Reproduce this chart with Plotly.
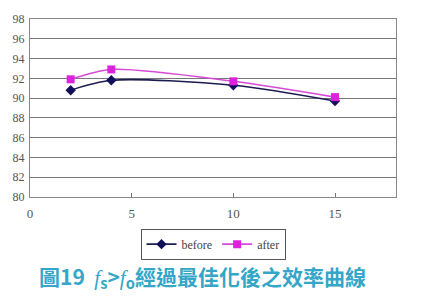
import plotly.graph_objects as go

x_vals = [2, 4, 10, 15]
before = [90.8, 91.8, 91.3, 89.7]
after = [91.9, 92.9, 91.7, 90.1]
series_names = ["before", "after"]
title_text = ("圖19  <span style='font-family:Liberation Serif;font-weight:normal'><i>f</i></span><sub>s</sub>>"
              "<span style='font-family:Liberation Serif;font-weight:normal'><i>f</i></span><sub>o</sub>經過最佳化後之效率曲線")

fig = go.Figure()
fig.add_trace(go.Scatter(
    x=x_vals, y=before, name=series_names[0], mode="lines+markers",
    line=dict(color="#1c1c50", width=1.6, shape="spline", smoothing=0.8),
    marker=dict(symbol="diamond", size=8, color="#10105a"),
))
fig.add_trace(go.Scatter(
    x=x_vals, y=after, name=series_names[1], mode="lines+markers",
    line=dict(color="#d64ad6", width=1.6, shape="spline", smoothing=0.8),
    marker=dict(symbol="square", size=8, color="#dd22dd"),
))

serif = "Liberation Serif"
fig.update_layout(
    width=424, height=301,
    margin=dict(l=30, r=28, t=16, b=104),
    paper_bgcolor="white", plot_bgcolor="white",
    showlegend=True,
    legend=dict(
        orientation="h", x=0.5, xanchor="center", y=-0.265, yanchor="middle",
        bordercolor="#555", borderwidth=1, bgcolor="white",
        font=dict(family=serif, size=12, color="#444"),
        itemwidth=30, tracegroupgap=0,
    ),
    xaxis=dict(
        range=[0, 18], tickvals=[0, 5, 10, 15], showgrid=False,
        ticks="inside", ticklen=4, tickcolor="#777",
        showline=True, linecolor="#888", linewidth=1, mirror=True,
        tickfont=dict(family=serif, size=13, color="#555"), zeroline=False,
        ticklabelstandoff=4,
    ),
    yaxis=dict(
        range=[80, 98], dtick=2, showgrid=True, gridcolor="#777", gridwidth=1,
        showline=True, linecolor="#888", linewidth=1, mirror=True,
        tickfont=dict(family=serif, size=12, color="#555"), zeroline=False,
        ticks="", ticklabelstandoff=2,
    ),
    annotations=[dict(
        text=title_text, xref="paper", yref="paper", x=0.02, y=-0.45,
        xanchor="left", yanchor="middle", showarrow=False,
        font=dict(family="Noto Sans CJK TC", size=21, color="#35a6c8", weight="bold"),
    )],
)

fig.write_html("out.html")
